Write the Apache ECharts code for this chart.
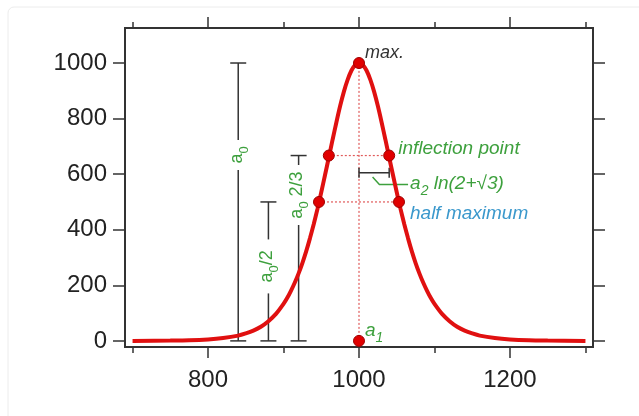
<!DOCTYPE html>
<html>
<head>
<meta charset="utf-8">
<script src="https://cdn.jsdelivr.net/npm/echarts@6/dist/echarts.min.js"></script>
<style>
  html, body { margin: 0; padding: 0; background: #ffffff; }
  #chart { width: 639px; height: 416px; }
</style>
</head>
<body>
<div id="chart"></div>
<script>
// ---- data ----
const curveX = [700, 750, 775, 800, 820, 840, 850, 860, 870, 880, 890, 900, 905, 910, 915, 920, 925, 930, 935, 940, 945, 950, 955, 960, 965, 970, 975, 980, 985, 990, 995,
  1000,
  1005, 1010, 1015, 1020, 1025, 1030, 1035, 1040, 1045, 1050, 1055, 1060, 1065, 1070, 1075, 1080, 1085, 1090, 1095, 1100, 1110, 1120, 1130, 1140, 1150, 1160, 1180, 1200, 1225, 1250, 1300];
const curveY = [0, 1, 2, 5, 10, 19, 27, 37, 51, 71, 97, 133, 155, 181, 210, 243, 280, 322, 369, 420, 475, 535, 597, 660, 724, 786, 845, 897, 940, 973, 993,
  1000,
  993, 973, 940, 897, 845, 786, 724, 660, 597, 535, 475, 420, 369, 322, 280, 243, 210, 181, 155, 133, 97, 71, 51, 37, 27, 19, 10, 5, 2, 1, 0];

const pointX = [1000, 1000, 960, 1040, 947, 1053];
const pointY = [1000, 0, 667, 667, 500, 500];

const barX = [840, 880, 920];
const barTop = [1000, 500, 667];
const barBottom = [0, 0, 0];
// {a|..} normal text, {s|..} subscript
const barLabel = ['{a|a}{s|0}', '{a|a}{s|0}{a|/2}', '{a|a}{s|0}{a| 2/3}'];
const barLabelY = [669, 268, 525];

const inflY = 667, inflX = [960, 1040];
const halfY = 500, halfX = [947, 1053];
const peakX = 1000, peakY = 1000, baseY = 0;

const bracketX = [1000, 1040];
const bracketY = 605;
const leaderX = [1018, 1027, 1065];
const leaderY = [590, 563, 563];

const noteText = ['{a|max.}', '{a|inflection point}', '{a|half maximum}', '{a|a}{s|1}', '{a|a}{s|2}{a| ln(2+\u221A3)}'];
const noteX = [1000, 1040, 1053, 1000, 1065];
const noteY = [1000, 667, 500, 0, 565];

const xMajor = [800, 1000, 1200];
const xMinor = [700, 900, 1100, 1300];
const yMajor = [0, 200, 400, 600, 800, 1000];

// ---- layout / style ----
const FONT = '"Liberation Sans", Arial, Helvetica, sans-serif';
const AX = '#333333';
const GREEN = '#3da03d';
const BLUE = '#3a98cc';
const RED = '#e01010';
const noteStyle = [
  { dx: 6, dy: -10, color: '#333333', size: 18 },
  { dx: 9, dy: -7, color: GREEN, size: 19 },
  { dx: 11, dy: 12, color: BLUE, size: 19 },
  { dx: 6, dy: -8, color: GREEN, size: 19 },
  { dx: 2, dy: 2, color: GREEN, size: 19 }
];
const barGap = [15, 27, 30];

function richFor(size, color, italic) {
  const st = italic ? 'italic' : 'normal';
  return {
    a: { fontSize: size, lineHeight: size, verticalAlign: 'top', fontFamily: FONT, fontStyle: st, fill: color },
    s: { fontSize: Math.round(size * 0.72), lineHeight: Math.round(size * 1.25), verticalAlign: 'bottom', fontFamily: FONT, fontStyle: st, fill: color }
  };
}

const chart = echarts.init(document.getElementById('chart'));

function xAxisDef(pos, ticks, len, labels) {
  return {
    type: 'value', position: pos, min: 690, max: 1310,
    axisLine: { show: true, onZero: false, lineStyle: { color: AX, width: 2 } },
    axisTick: { show: true, inside: false, length: len, customValues: ticks, lineStyle: { color: AX, width: 1.5 } },
    axisLabel: labels ? { show: true, customValues: ticks, margin: 21, fontSize: 24, color: '#222', fontFamily: FONT, formatter: v => String(v) } : { show: false },
    splitLine: { show: false }
  };
}
function yAxisDef(pos, labels) {
  return {
    type: 'value', position: pos, min: -22, max: 1126,
    axisLine: { show: true, onZero: false, lineStyle: { color: AX, width: 2 } },
    axisTick: { show: true, inside: false, length: 12, customValues: yMajor, lineStyle: { color: AX, width: 1.5 } },
    axisLabel: labels ? { show: true, customValues: yMajor, margin: 18, fontSize: 24, color: '#222', fontFamily: FONT, formatter: v => String(v) } : { show: false },
    splitLine: { show: false }
  };
}

const dotted = { color: '#e05a5a', width: 1.2, type: [2, 2] };

const option = {
  animation: false,
  backgroundColor: '#ffffff',
  graphic: [{
    type: 'rect', shape: { x: 8, y: 7, width: 700, height: 500, r: 6 },
    style: { fill: 'none', stroke: '#ececec', lineWidth: 1 }, z: -10
  }],
  grid: { left: 125, top: 28, width: 468, height: 319, containLabel: false },
  xAxis: [
    xAxisDef('bottom', xMajor, 11, true),
    xAxisDef('bottom', xMinor, 6, false),
    xAxisDef('top', xMajor, 11, false),
    xAxisDef('top', xMinor, 6, false)
  ],
  yAxis: [yAxisDef('left', true), yAxisDef('right', false)],
  series: [
    { type: 'line', data: [[peakX, baseY], [peakX, peakY]], symbol: 'none', lineStyle: dotted, z: 1, silent: true },
    { type: 'line', data: [[inflX[0], inflY], [inflX[1], inflY]], symbol: 'none', lineStyle: dotted, z: 1, silent: true },
    { type: 'line', data: [[halfX[0], halfY], [halfX[1], halfY]], symbol: 'none', lineStyle: dotted, z: 1, silent: true },
    {
      type: 'custom', z: 2, silent: true,
      data: barX.map((x, i) => [x, barTop[i], barBottom[i], barLabelY[i]]),
      renderItem: function (params, api) {
        const i = params.dataIndex;
        const pt = api.coord([api.value(0), api.value(1)]);
        const pb = api.coord([api.value(0), api.value(2)]);
        const pl = api.coord([api.value(0), api.value(3)]);
        const g = barGap[i];
        const ls = { stroke: AX, lineWidth: 1.5 };
        return {
          type: 'group', children: [
            { type: 'line', shape: { x1: pt[0], y1: pt[1], x2: pt[0], y2: pl[1] - g }, style: ls },
            { type: 'line', shape: { x1: pt[0], y1: pl[1] + g, x2: pt[0], y2: pb[1] }, style: ls },
            { type: 'line', shape: { x1: pt[0] - 8, y1: pt[1], x2: pt[0] + 8, y2: pt[1] }, style: ls },
            { type: 'line', shape: { x1: pb[0] - 8, y1: pb[1], x2: pb[0] + 8, y2: pb[1] }, style: ls },
            {
              type: 'text', x: pl[0] + 1, y: pl[1], rotation: Math.PI / 2,
              style: { text: barLabel[i], rich: richFor(18, GREEN, false), fill: GREEN, font: '18px ' + FONT, align: 'center', verticalAlign: 'middle' }
            }
          ]
        };
      }
    },
    {
      type: 'custom', z: 2, silent: true,
      data: [[bracketX[0], bracketX[1], bracketY]],
      renderItem: function (params, api) {
        const a = api.coord([api.value(0), api.value(2)]);
        const b = api.coord([api.value(1), api.value(2)]);
        const l = leaderX.map((x, k) => api.coord([x, leaderY[k]]));
        const ls = { stroke: AX, lineWidth: 1.5 };
        return {
          type: 'group', children: [
            { type: 'line', shape: { x1: a[0], y1: a[1], x2: b[0], y2: b[1] }, style: ls },
            { type: 'line', shape: { x1: a[0], y1: a[1] - 5, x2: a[0], y2: a[1] + 5 }, style: ls },
            { type: 'line', shape: { x1: b[0], y1: b[1] - 5, x2: b[0], y2: b[1] + 5 }, style: ls },
            { type: 'polyline', shape: { points: l }, style: { stroke: GREEN, lineWidth: 1.5, fill: 'none' } }
          ]
        };
      }
    },
    {
      type: 'line', data: curveX.map((x, i) => [x, curveY[i]]), symbol: 'none', smooth: 0.3,
      lineStyle: { color: RED, width: 4 }, z: 3, silent: true
    },
    {
      type: 'scatter', data: pointX.map((x, i) => [x, pointY[i]]), symbol: 'circle', symbolSize: 11,
      itemStyle: { color: '#e00000', borderColor: '#a00000', borderWidth: 1, opacity: 1 }, z: 4, silent: true
    },
    {
      type: 'custom', z: 5, silent: true,
      data: noteX.map((x, i) => [x, noteY[i]]),
      renderItem: function (params, api) {
        const i = params.dataIndex;
        const p = api.coord([api.value(0), api.value(1)]);
        const s = noteStyle[i];
        return {
          type: 'text', x: p[0] + s.dx, y: p[1] + s.dy,
          style: { text: noteText[i], rich: richFor(s.size, s.color, true), fill: s.color, font: 'italic ' + s.size + 'px ' + FONT, align: 'left', verticalAlign: 'middle' }
        };
      }
    }
  ]
};
chart.setOption(option);
</script>
</body>
</html>
